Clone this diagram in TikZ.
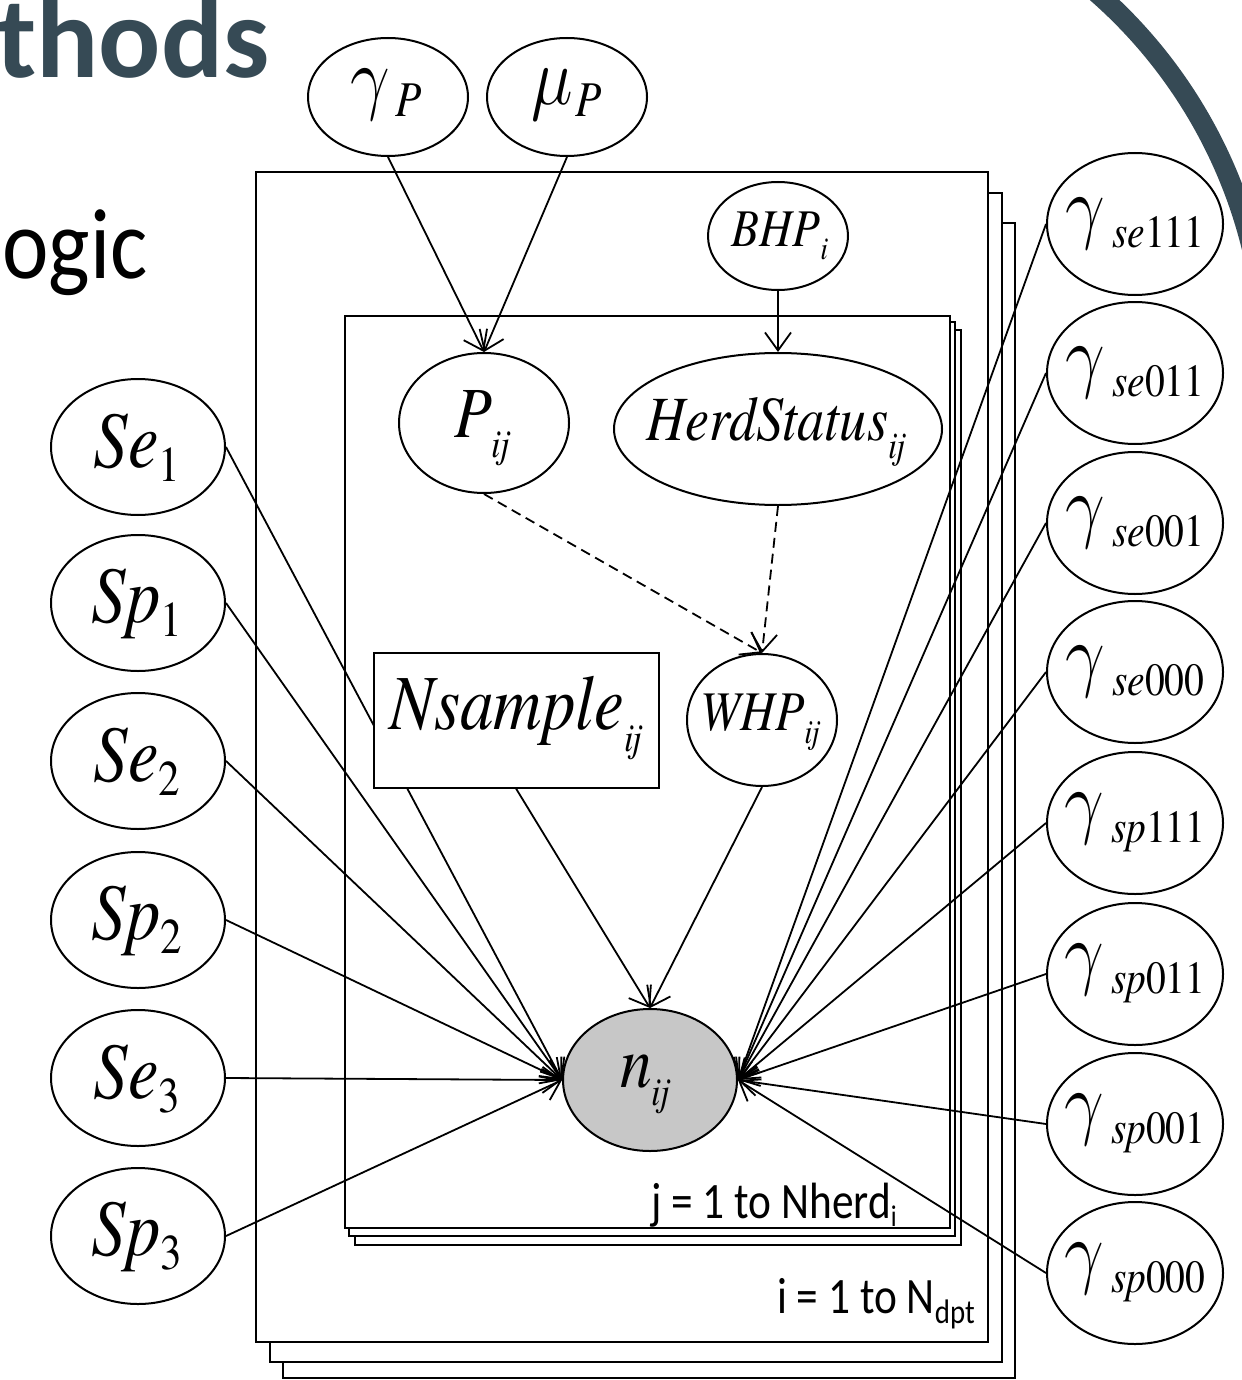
\RequirePackage{fix-cm}
\documentclass[tikz,border=0pt]{standalone}
\usepackage{fontspec}
\usepackage{graphicx}
\IfFontExistsTF{texgyretermes-regular.otf}
  {\newfontfamily\tms{texgyretermes}[Extension=.otf,UprightFont=*-regular,ItalicFont=*-italic,BoldFont=*-bold]}
  {\newfontfamily\tms{Latin Modern Roman}}
\newfontfamily\slidefont{Carlito}
\newfontfamily\platefont{Carlito}[FakeStretch=0.85]
\usetikzlibrary{arrows.meta,shapes.geometric}
\pgfdeclarelayer{bg}
\pgfsetlayers{bg,main}
\definecolor{slate}{HTML}{364A55}
\newcommand\sq[1]{\scalebox{0.86}[1]{\tms #1}}
\newcommand\bigi[2]{{\fontsize{#1}{#1}\selectfont\tms\itshape #2}}
\newcommand\mgreek[2]{{\fontsize{#1}{#1}\selectfont$#2$}}
\newcommand\ijsub[3]{\lower#1\hbox{\fontsize{#2}{#2}\selectfont\tms\itshape #3}}
\newcommand\leftlab[2]{\sq{\bigi{80}{#1}\lower14pt\hbox{\fontsize{50}{50}\selectfont\tms #2}}}
\newcommand\glab[2]{\sq{\mgreek{82}{\gamma}\kern8pt\lower14pt\hbox{\fontsize{46}{46}\selectfont\tms\itshape #1\upshape #2}}}
\begin{document}
\begin{tikzpicture}[x=1pt,y=-1pt,
  plate/.style={draw,line width=2.4pt,fill=white},
  var/.style 2 args={ellipse,draw,line width=2pt,fill=white,inner sep=0pt,minimum width=#1,minimum height=#2},
  lbl/.style={inner sep=0pt},
  conn/.style={line width=1.8pt,-{Straight Barb[length=18pt,width=26pt]}},
  dconn/.style={conn,dash pattern=on 10pt off 6pt}]
\useasboundingbox (0,0) rectangle (1241,1380);

% slide decoration
\node[anchor=base east,inner sep=0pt,text=slate] (t1) at (270,78) {\slidefont\bfseries\fontsize{116}{116}\selectfont thods};
\node[anchor=base east,inner sep=0pt] (t2) at (148,278) {\scalebox{0.88}[1]{\slidefont\fontsize{100}{100}\selectfont ogic}};
\draw[slate,line width=20pt] (770,366) ++(-55:496) arc[start angle=-55,end angle=0,radius=496];

% plates
\begin{pgfonlayer}{bg}
\draw[plate] (283,223) rectangle (1015,1378);
\draw[plate] (270,193) rectangle (1002,1362);
\draw[plate] (256,172) rectangle (988,1342);
\draw[plate] (355,330) rectangle (961,1245);
\draw[plate] (349,322) rectangle (955,1236);
\draw[plate] (345,316) rectangle (950,1228);
\end{pgfonlayer}
\node[anchor=base west,inner sep=0pt] (jlab) at (651,1218) {\platefont\fontsize{51}{51}\selectfont j = 1 to Nherd\lower8pt\hbox{\fontsize{30}{30}\selectfont i}};
\node[anchor=base west,inner sep=0pt] (ilab) at (777,1313) {\platefont\fontsize{51}{51}\selectfont i = 1 to N\lower10pt\hbox{\fontsize{34}{34}\selectfont dpt}};

% nodes
\node[var={160pt}{118pt}] (gp) at (388,97) {};
\node[var={160pt}{118pt}] (mp) at (567,97) {};
\node[var={140pt}{108pt}] (bhp) at (778,236) {};
\node[var={170pt}{140pt}] (pij) at (484,423) {};
\node[var={328pt}{152pt}] (herd) at (778,429) {};
\node[draw,line width=2pt,fill=white,minimum width=285pt,minimum height=135pt,inner sep=0pt] (nsample) at (516,720) {};
\node[var={150pt}{132pt}] (whp) at (762,720) {};
\node[var={174pt}{142pt},fill=black!22] (nij) at (650,1080) {};

\node[var={174pt}{136pt}] (se1) at (138,447) {};
\node[var={174pt}{136pt}] (sp1) at (138,603) {};
\node[var={174pt}{136pt}] (se2) at (138,761) {};
\node[var={174pt}{136pt}] (sp2) at (138,920) {};
\node[var={174pt}{136pt}] (se3) at (138,1078) {};
\node[var={174pt}{136pt}] (sp3) at (138,1236) {};

\node[var={176pt}{142pt}] (g1) at (1135,224) {};
\node[var={176pt}{142pt}] (g2) at (1135,373) {};
\node[var={176pt}{142pt}] (g3) at (1135,523) {};
\node[var={176pt}{142pt}] (g4) at (1135,672) {};
\node[var={176pt}{142pt}] (g5) at (1135,823) {};
\node[var={176pt}{142pt}] (g6) at (1135,974) {};
\node[var={176pt}{142pt}] (g7) at (1135,1124) {};
\node[var={176pt}{142pt}] (g8) at (1135,1273) {};

% labels
\node[lbl] (gpt) at (386,95) {\sq{\mgreek{82}{\gamma}\kern6pt\ijsub{12pt}{50}{P}}};
\node[lbl] (mpt) at (567,95) {\sq{\mgreek{82}{\mu}\kern3pt\ijsub{12pt}{50}{P}}};
\node[lbl] (bhpt) at (780,236) {\sq{\bigi{53}{BHP}\ijsub{13pt}{32}{i}}};
\node[lbl] (pijt) at (482,428) {\sq{\bigi{72}{P}\ijsub{20pt}{40}{ij}}};
\node[lbl] (herdt) at (776,432) {\sq{\bigi{63}{HerdStatus}\ijsub{18pt}{38}{ij}}};
\node[lbl] (nsamplet) at (516,718) {\sq{\bigi{78}{Nsample}\ijsub{22pt}{40}{ij}}};
\node[lbl] (whpt) at (760,722) {\sq{\bigi{56}{WHP}\ijsub{13pt}{34}{ij}}};
\node[lbl] (nijt) at (645,1084) {\sq{\bigi{74}{n}\ijsub{18pt}{40}{ij}}};

\node[lbl] (se1t) at (137,448) {\leftlab{Se}{1}};
\node[lbl] (sp1t) at (137,604) {\leftlab{Sp}{1}};
\node[lbl] (se2t) at (137,762) {\leftlab{Se}{2}};
\node[lbl] (sp2t) at (137,921) {\leftlab{Sp}{2}};
\node[lbl] (se3t) at (137,1079) {\leftlab{Se}{3}};
\node[lbl] (sp3t) at (137,1237) {\leftlab{Sp}{3}};

\node[lbl] (g1t) at (1135,224) {\glab{se}{111}};
\node[lbl] (g2t) at (1135,373) {\glab{se}{011}};
\node[lbl] (g3t) at (1135,523) {\glab{se}{001}};
\node[lbl] (g4t) at (1135,672) {\glab{se}{000}};
\node[lbl] (g5t) at (1135,823) {\glab{sp}{111}};
\node[lbl] (g6t) at (1135,974) {\glab{sp}{011}};
\node[lbl] (g7t) at (1135,1124) {\glab{sp}{001}};
\node[lbl] (g8t) at (1135,1273) {\glab{sp}{000}};

% connectors
\begin{pgfonlayer}{bg}
\draw[conn] (gp.south) -- (pij.north);
\draw[conn] (mp.south) -- (pij.north);
\draw[conn] (bhp.south) -- (herd.north);
\draw[dconn] (pij.south) -- (whp.north);
\draw[dconn] (herd.south) -- (whp.north);
\draw[conn] (nsample.south) -- (nij.north);
\draw[conn] (whp.south) -- (nij.north);
\foreach \n in {se1,sp1,se2,sp2,se3,sp3} \draw[conn] (\n.east) -- (nij.west);
\foreach \n in {g1,g2,g3,g4,g5,g6,g7,g8} \draw[conn] (\n.west) -- (nij.east);
\end{pgfonlayer}
\end{tikzpicture}
\end{document}
